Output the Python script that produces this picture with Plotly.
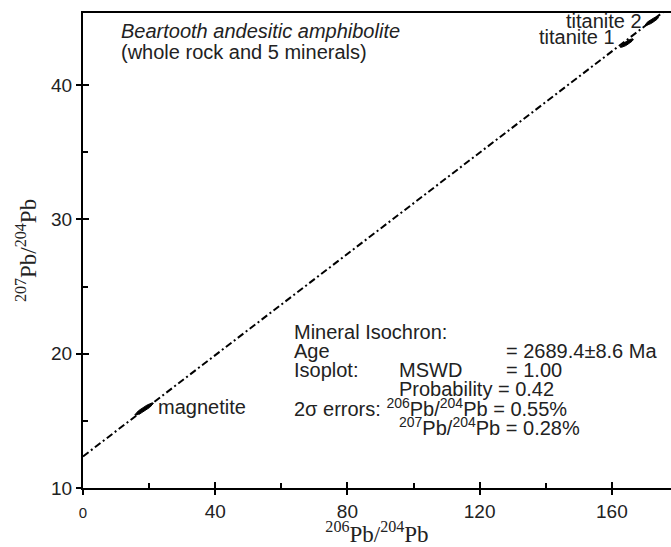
import numpy as np
import plotly.graph_objects as go

# ---- data ----
minerals = ["magnetite", "titanite 1", "titanite 2"]
pb206_204 = [18.5, 164.5, 172.1]
pb207_204 = [15.88, 43.13, 44.77]
ell_sx = [2.8, 2.0, 2.0]        # ellipse half-extent in 206/204
ell_sy = [0.46, 0.32, 0.32]     # ellipse half-extent in 207/204
ell_rho = [0.93, 0.88, 0.88]

iso_intercept = 12.35
iso_slope = 0.1885
iso_x = [0, 178]

x_ticks = [0, 40, 80, 120, 160]
x_ticktext = ["<span style='font-size:15px'>0</span>", "40", "80", "120", "160"]
y_ticks = [10, 20, 30, 40]
x_range = [0, 177.9]
y_range = [10, 45.37]

FONT = "Liberation Sans, Arial, sans-serif"
SERIF = "Liberation Serif, Times New Roman, serif"

fig = go.Figure()

# isochron line
iso_y = [iso_intercept + iso_slope * x for x in iso_x]
fig.add_trace(go.Scatter(x=iso_x, y=iso_y, mode="lines",
                         line=dict(color="black", width=2, dash="7px,3px,2px,3px"),
                         hoverinfo="skip", showlegend=False))

# error ellipses
t = np.linspace(0, 2 * np.pi, 60)
for cx, cy, sx, sy, r in zip(pb206_204, pb207_204, ell_sx, ell_sy, ell_rho):
    ex = cx + sx * np.cos(t)
    ey = cy + sy * (r * np.cos(t) + np.sqrt(1 - r * r) * np.sin(t))
    fig.add_trace(go.Scatter(x=ex, y=ey, mode="lines", fill="toself",
                             fillcolor="black", line=dict(color="black", width=1),
                             hoverinfo="skip", showlegend=False,
                             xaxis="x2", yaxis="y2"))

# labels
fig.add_annotation(x=172.1, y=44.77, text="titanite 2", xref="x", yref="y",
                   xanchor="right", yanchor="middle", xshift=-8, yshift=0, showarrow=False)
fig.add_annotation(x=164.5, y=43.13, text="titanite 1", xref="x", yref="y",
                   xanchor="right", yanchor="middle", xshift=-10, yshift=6, showarrow=False)
fig.add_annotation(x=18.5, y=15.88, text="magnetite", xref="x", yref="y",
                   xanchor="left", yanchor="middle", xshift=12, yshift=2, showarrow=False)

fig.add_annotation(x=11, y=44.0, text="<i>Beartooth andesitic amphibolite</i>",
                   xanchor="left", yanchor="middle", showarrow=False)
fig.add_annotation(x=11, y=42.45, text="(whole rock and 5 minerals)",
                   xanchor="left", yanchor="middle", showarrow=False)

col1 = 63.2
col2 = 95
col3 = 127.5
rows = [21.6, 20.2, 18.8, 17.4, 16.0, 14.6]
fig.add_annotation(x=col1, y=rows[0], text="Mineral Isochron:", xanchor="left", showarrow=False)
fig.add_annotation(x=col1, y=rows[1], text="Age", xanchor="left", showarrow=False)
fig.add_annotation(x=col3, y=rows[1], text="= 2689.4±8.6 Ma", xanchor="left", showarrow=False)
fig.add_annotation(x=col1, y=rows[2], text="Isoplot:", xanchor="left", showarrow=False)
fig.add_annotation(x=col2, y=rows[2], text="MSWD", xanchor="left", showarrow=False)
fig.add_annotation(x=col3, y=rows[2], text="= 1.00", xanchor="left", showarrow=False)
fig.add_annotation(x=col2, y=rows[3], text="Probability = 0.42", xanchor="left", showarrow=False)
fig.add_annotation(x=col1, y=rows[4], text="2σ errors: <sup>206</sup>Pb/<sup>204</sup>Pb = 0.55%",
                   xanchor="left", showarrow=False)
fig.add_annotation(x=col2, y=rows[5], text="<sup>207</sup>Pb/<sup>204</sup>Pb = 0.28%",
                   xanchor="left", showarrow=False)

axis_common = dict(showgrid=False, zeroline=False, tickcolor="black", tickwidth=2)

fig.update_layout(
    width=671, height=547,
    margin=dict(l=83, r=0, t=13, b=59),
    paper_bgcolor="white", plot_bgcolor="white",
    font=dict(family=FONT, size=20, color="#222"),
    showlegend=False,
    xaxis=dict(range=x_range, tickvals=x_ticks, ticktext=x_ticktext, ticks="outside",
               ticklen=5, showline=True, mirror=True, linecolor="black", linewidth=2,
               tickfont=dict(size=19),
               title=dict(text="<sup>206</sup>Pb/<sup>204</sup>Pb",
                          font=dict(family=SERIF, size=23, color="#222"), standoff=2),
               **axis_common),
    yaxis=dict(range=y_range, tickvals=y_ticks, ticks="outside", ticklen=5,
               showline=True, mirror=False, linecolor="black", linewidth=2,
               tickfont=dict(size=19),
               title=dict(text="<sup>207</sup>Pb/<sup>204</sup>Pb",
                          font=dict(family=SERIF, size=23, color="#222"), standoff=8),
               **axis_common),
    xaxis2=dict(overlaying="x", matches="x", anchor="y2", range=x_range,
                tickvals=x_ticks, ticks="inside", ticklen=6, showticklabels=False,
                minor=dict(ticks="inside", tickvals=[20, 60, 100, 140], ticklen=5,
                           tickcolor="black", tickwidth=2),
                showline=False, **axis_common),
    yaxis2=dict(overlaying="y", matches="y", anchor="x2", range=y_range,
                tickvals=y_ticks, ticks="inside", ticklen=6, showticklabels=False,
                side="left",
                minor=dict(ticks="inside", tickvals=[15, 25, 35], ticklen=5,
                           tickcolor="black", tickwidth=2),
                showline=False, **axis_common),
)

fig.write_html("out.html")
